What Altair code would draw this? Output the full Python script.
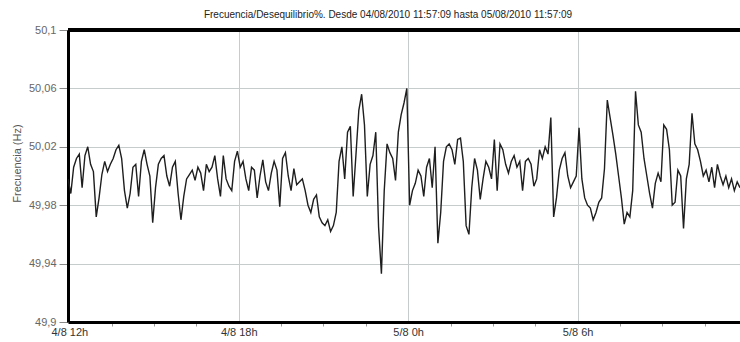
import altair as alt
import pandas as pd

# Frequency log, one sample every 6 minutes
title_text = "Frecuencia/Desequilibrio%. Desde 04/08/2010 11:57:09 hasta 05/08/2010 11:57:09"
start_time = "2010-08-04 11:57:09"
end_time = "2010-08-05 11:45:09"
step = "6min"

freq_hz = [
    49.998, 49.988, 50.006, 50.012, 50.015, 49.992, 50.014, 50.020, 50.008, 50.003,
    49.972, 49.985, 50.001, 50.010, 50.003, 50.008, 50.012, 50.018, 50.021, 50.012,
    49.990, 49.978, 49.988, 50.006, 50.008, 49.986, 50.010, 50.018, 50.008, 50.000,
    49.968, 49.992, 50.008, 50.012, 50.014, 50.000, 49.993, 50.006, 50.010, 49.988,
    49.970, 49.986, 49.998, 50.001, 50.004, 49.997, 50.006, 50.002,
    49.990, 50.008, 50.003, 50.006, 50.014, 49.998, 49.986, 50.014, 49.998, 49.993,
    49.990, 50.010, 50.017, 50.006, 50.010, 49.998, 49.990, 50.006, 50.004, 49.985,
    50.000, 50.011, 49.996, 49.990, 50.002, 50.010, 50.004, 49.979, 50.012, 50.016,
    50.000, 49.990, 50.005, 49.994, 49.996, 49.998, 49.990, 49.980, 49.975, 49.984,
    49.987, 49.972, 49.968, 49.966, 49.970,
    49.962, 49.966, 49.975, 50.010, 50.020, 49.998, 50.030, 50.034, 49.986, 50.015,
    50.045, 50.056, 50.035, 49.986, 50.008, 50.014, 50.030, 49.965, 49.933, 49.990,
    50.022, 50.016, 50.012, 49.997, 50.030, 50.042, 50.050, 50.060,
    49.980, 49.990, 49.995, 50.004, 50.000, 49.986, 50.006, 50.012, 49.992, 50.020,
    49.954, 49.975, 50.010, 50.020, 50.022, 50.018, 50.008, 50.025, 50.026, 50.010,
    49.966, 49.960, 49.992, 50.012, 50.004, 49.984, 49.998, 50.010, 50.006, 49.998,
    50.025, 49.990, 50.022, 50.018, 50.008, 50.002, 50.010, 50.014, 50.006, 50.010,
    49.990, 50.010, 50.012, 50.008, 49.993, 49.998, 50.018, 50.012, 50.020, 50.015,
    50.040, 49.972, 49.985, 50.004, 50.012, 50.016, 50.000, 49.992, 49.996, 50.000,
    50.033, 49.998, 49.985, 49.980, 49.978, 49.970, 49.975, 49.982, 49.985, 50.005,
    50.052, 50.040, 50.028, 50.015, 50.000, 49.985, 49.967, 49.975, 49.972, 49.990,
    50.058, 50.035, 50.030, 50.012, 50.000, 49.988, 49.978, 49.995, 50.002, 49.996,
    50.035, 50.032, 50.018, 49.980, 49.982, 50.004, 50.000, 49.964, 49.998, 50.008,
    50.043, 50.022, 50.018, 50.010, 50.000, 50.004, 49.996, 50.006, 49.992, 50.008,
    50.000, 49.994, 50.000, 49.992, 49.998, 49.990, 49.996, 49.992,
]

# Axis ticks and their labels
x_major = ["2010-08-04T12:00", "2010-08-04T18:00", "2010-08-05T00:00", "2010-08-05T06:00"]
x_major_labels = ["4/8 12h", "4/8 18h", "5/8 0h", "5/8 6h"]
x_minor_start = "2010-08-04 12:00"
x_minor_count = 16
x_minor_step = "90min"

y_major = [49.9, 49.94, 49.98, 50.02, 50.06, 50.1]
y_major_labels = ["49,9", "49,94", "49,98", "50,02", "50,06", "50,1"]
y_min, y_max = 49.9, 50.1

df = pd.DataFrame({
    "tiempo": pd.date_range(start_time, periods=len(freq_hz), freq=step),
    "frecuencia": freq_hz,
})


def to_dt(ts):
    ts = pd.Timestamp(ts)
    return alt.DateTime(year=ts.year, month=ts.month, date=ts.day,
                        hours=ts.hour, minutes=ts.minute, seconds=ts.second)


# x axis: major ticks carry label + grid, the rest are short minor ticks
x_key = "timeFormat(datum.value, '%Y-%m-%dT%H:%M')"
x_major_list = "[" + ",".join(f"'{t}'" for t in x_major) + "]"
x_is_major = f"indexof({x_major_list}, {x_key}) >= 0"
x_label_expr = "''"
for t, lab in reversed(list(zip(x_major, x_major_labels))):
    x_label_expr = f"{x_key} == '{t}' ? '{lab}' : {x_label_expr}"
x_values = [to_dt(t) for t in pd.date_range(x_minor_start, periods=x_minor_count, freq=x_minor_step)]

# y axis: same idea, minor ticks every 0.01 Hz
y_key = "format(datum.value, '.2f')"
y_major_list = "[" + ",".join(f"'{v:.2f}'" for v in y_major) + "]"
y_is_major = f"indexof({y_major_list}, {y_key}) >= 0"
y_label_expr = "''"
for v, lab in reversed(list(zip(y_major, y_major_labels))):
    y_label_expr = f"{y_key} == '{v:.2f}' ? '{lab}' : {y_label_expr}"
y_values = [round(y_min + 0.01 * k, 2) for k in range(21)]

font = "Liberation Sans"
frame = "#000000"

x_axis = alt.Axis(
    title=None,
    values=x_values,
    labelExpr=x_label_expr,
    labelFlush=False,
    labelOverlap=False,
    labelFont=font,
    labelFontSize=11,
    labelColor="#333333",
    labelPadding=4,
    domain=True,
    domainColor=frame,
    domainWidth=3,
    grid=True,
    gridColor="#c6cbcb",
    gridWidth=1,
    gridOpacity={"condition": {"test": x_is_major, "value": 1}, "value": 0},
    ticks=True,
    tickColor="#9a9a9a",
    tickSize={"condition": {"test": x_is_major, "value": 0}, "value": 4},
)

y_axis = alt.Axis(
    title="Frecuencia (Hz)",
    titleFont=font,
    titleFontSize=11,
    titleFontWeight="normal",
    titleColor="#555555",
    titleX=-51,
    titleY=133,
    titleAngle=-90,
    titleAlign="center",
    titleBaseline="middle",
    values=y_values,
    labelExpr=y_label_expr,
    labelOverlap=False,
    labelFlush=False,
    labelFont=font,
    labelFontSize=11,
    labelColor="#666666",
    labelPadding=3,
    domain=True,
    domainColor=frame,
    domainWidth=3,
    grid=True,
    gridColor="#c6cbcb",
    gridWidth=1,
    gridOpacity={"condition": {"test": y_is_major, "value": 1}, "value": 0},
    ticks=True,
    tickColor="#8a8a8a",
    tickSize={"condition": {"test": y_is_major, "value": 9}, "value": 4},
)

x_scale = alt.Scale(domain=[to_dt(start_time), to_dt(end_time)], nice=False)
y_scale = alt.Scale(domain=[y_min, y_max], nice=False, zero=False)

line = (
    alt.Chart(df)
    .mark_line(color="#1e1e1e", strokeWidth=1.4, clip=True)
    .encode(
        x=alt.X("tiempo:T", axis=x_axis, scale=x_scale),
        y=alt.Y("frecuencia:Q", axis=y_axis, scale=y_scale),
    )
)

# heavy top edge of the plot frame, at the top of the frequency range
top_edge = (
    alt.Chart(df)
    .mark_rule(color=frame, strokeWidth=3)
    .encode(y=alt.datum(y_max))
)

chart = (
    alt.layer(line, top_edge)
    .properties(
        width=672,
        height=292,
        autosize=alt.AutoSizeParams(type="none"),
        padding={"left": 68, "top": 30, "right": 0, "bottom": 20},
        background="#ffffff",
        title=alt.TitleParams(
            text=title_text, font=font, fontSize=10, fontWeight="normal",
            color="#222222", anchor="middle", dx=-16, offset=4,
        ),
    )
    .configure_view(stroke=None)
)

chart.save("out.html", embed_options={"renderer": "svg", "actions": False})
